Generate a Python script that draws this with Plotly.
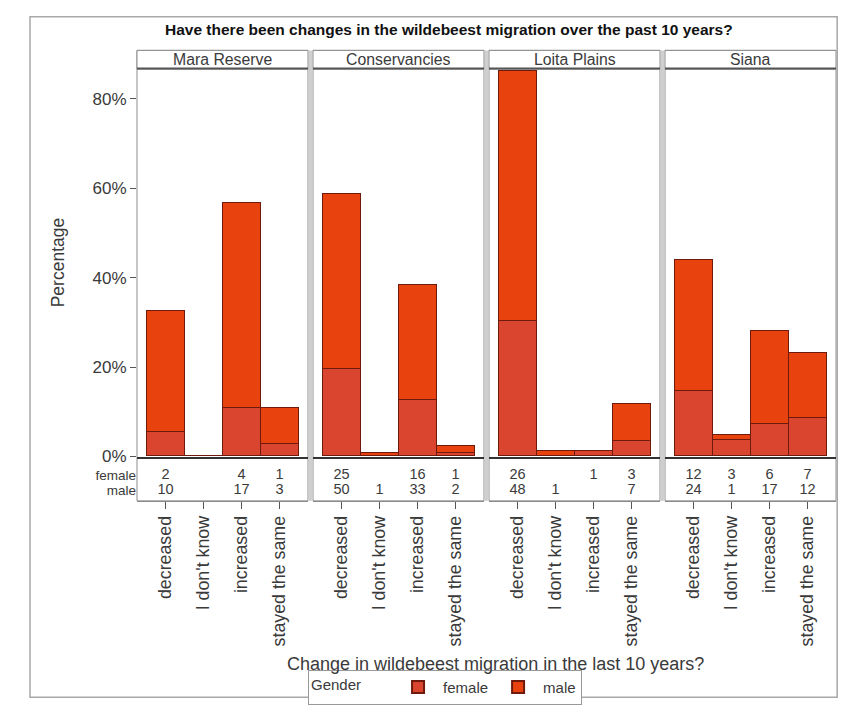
import plotly.graph_objects as go

# Figure is drawn smaller than the window so the page's body margin fits
FW, FH, OFF = 830, 700, 8

regions = ["Mara Reserve", "Conservancies", "Loita Plains", "Siana"]
categories = ["decreased", "I don't know", "increased", "stayed the same"]
female_counts = [
    [2, 0, 4, 1],
    [25, 0, 16, 1],
    [26, 0, 1, 3],
    [12, 3, 6, 7],
]
male_counts = [
    [10, 0, 17, 3],
    [50, 1, 33, 2],
    [48, 1, 0, 7],
    [24, 1, 17, 12],
]
y_tick_values = [0, 20, 40, 60, 80]
y_tick_labels = ["0%", "20%", "40%", "60%", "80%"]

female_color = "#d9452f"
male_color = "#e8420f"
edge_color = "#6e1a0c"
text_color = "#3a3a3a"
FONT = "Liberation Sans, Arial, sans-serif"


def px(x):
    return (x - OFF) / FW


def py(y):
    return 1 - (y - OFF) / FH


panel_left = [137, 313, 489, 665]
panel_w = 171
plot_top, plot_bottom, table_bottom = 70, 463, 508
strip_top = 51

fig = go.Figure()
layout = dict()
shapes = []
annotations = []

for i, region in enumerate(regions):
    n = i + 1
    nt = i + 5
    total = sum(female_counts[i]) + sum(male_counts[i])
    fpct = [c / total * 100 for c in female_counts[i]]
    mpct = [c / total * 100 for c in male_counts[i]]
    xa = "x" if n == 1 else f"x{n}"
    ya = "y" if n == 1 else f"y{n}"
    fig.add_trace(go.Bar(
        x=categories, y=fpct, name="female", legendgroup="female",
        showlegend=(i == 0), marker=dict(color=female_color, line=dict(color=edge_color, width=1.3)),
        xaxis=xa, yaxis=ya))
    fig.add_trace(go.Bar(
        x=categories, y=mpct, name="male", legendgroup="male",
        showlegend=(i == 0), marker=dict(color=male_color, line=dict(color=edge_color, width=1.3)),
        xaxis=xa, yaxis=ya))
    # table of counts
    fig.add_trace(go.Scatter(
        x=categories, y=[0.578] * 4, mode="text",
        text=[str(c) if c else "" for c in female_counts[i]],
        textfont=dict(size=14.5, color=text_color, family=FONT),
        showlegend=False, hoverinfo="skip", xaxis=f"x{nt}", yaxis=f"y{nt}"))
    fig.add_trace(go.Scatter(
        x=categories, y=[0.244] * 4, mode="text",
        text=[str(c) if c else "" for c in male_counts[i]],
        textfont=dict(size=14.5, color=text_color, family=FONT),
        showlegend=False, hoverinfo="skip", xaxis=f"x{nt}", yaxis=f"y{nt}"))

    dom = [px(panel_left[i]), px(panel_left[i] + panel_w)]
    key_x = "xaxis" if n == 1 else f"xaxis{n}"
    key_y = "yaxis" if n == 1 else f"yaxis{n}"
    layout[key_x] = dict(domain=dom, anchor=ya, type="category", categoryorder="array",
                         categoryarray=categories, range=[-0.75, 3.75],
                         showticklabels=False, ticks="", showgrid=False, zeroline=False,
                         showline=True, linecolor="#333333", linewidth=1.5, fixedrange=True)
    layout[key_y] = dict(domain=[py(plot_bottom), py(plot_top)], anchor=xa,
                         range=[0, 86.6], showgrid=False, zeroline=False,
                         showticklabels=(i == 0), tickvals=y_tick_values, ticktext=y_tick_labels,
                         ticks="outside" if i == 0 else "", ticklen=6, tickcolor="#555555",
                         tickfont=dict(size=17, color=text_color, family=FONT),
                         showline=False, fixedrange=True)
    layout[f"xaxis{nt}"] = dict(domain=dom, anchor=f"y{nt}", type="category", categoryorder="array",
                                categoryarray=categories, range=[-0.75, 3.75],
                                tickangle=-90, ticks="outside", ticklen=7, tickcolor="#555555",
                                tickfont=dict(size=17.8, color=text_color, family=FONT),
                                showgrid=False, zeroline=False, showline=True,
                                linecolor="#8c8c8c", linewidth=1, fixedrange=True)
    layout[f"yaxis{nt}"] = dict(domain=[py(table_bottom), py(plot_bottom)], anchor=f"x{nt}",
                                range=[0, 1], showgrid=False, zeroline=False,
                                showticklabels=(i == 0), tickvals=[0.578, 0.244],
                                ticktext=["female", "male"], ticks="",
                                tickfont=dict(size=13.5, color=text_color, family=FONT),
                                showline=False, fixedrange=True)

    # panel border
    shapes.append(dict(type="rect", xref="paper", yref="paper",
                       x0=px(panel_left[i]), x1=px(panel_left[i] + panel_w),
                       y0=py(table_bottom), y1=py(strip_top),
                       line=dict(color="#8c8c8c", width=1), layer="below"))
    # strip
    shapes.append(dict(type="rect", xref="paper", yref="paper",
                       x0=px(panel_left[i]), x1=px(panel_left[i] + panel_w),
                       y0=py(plot_top), y1=py(strip_top),
                       line=dict(color="#8c8c8c", width=1), fillcolor="white"))
    shapes.append(dict(type="line", xref="paper", yref="paper",
                       x0=px(panel_left[i]), x1=px(panel_left[i] + panel_w),
                       y0=py(plot_top - 0.5), y1=py(plot_top - 0.5),
                       line=dict(color="#555555", width=2)))
    annotations.append(dict(text=region, xref="paper", yref="paper",
                            x=px(panel_left[i] + panel_w / 2), y=py((strip_top + plot_top) / 2),
                            xanchor="center", yanchor="middle",
                            showarrow=False, font=dict(size=15.8, color=text_color, family=FONT)))

# light gray bands between panels and at right
for i in range(4):
    x0 = panel_left[i] + panel_w
    x1 = x0 + 5
    shapes.append(dict(type="rect", xref="paper", yref="paper",
                       x0=px(x0 + 0.5), x1=min(px(x1 - 0.5), 1.0), y0=py(table_bottom), y1=py(strip_top),
                       line=dict(width=0), fillcolor="#cfcfcf"))

# outer frame
shapes.append(dict(type="rect", xref="paper", yref="paper",
                   x0=px(30), x1=0.999, y0=0.001, y1=py(17),
                   line=dict(color="#a8a8a8", width=1.5)))

annotations.append(dict(text="<b>Have there been changes in the wildebeest migration over the past 10 years?</b>",
                        xref="paper", yref="paper", x=px(449), y=py(30), showarrow=False,
                        xanchor="center", yanchor="middle",
                        font=dict(size=15.5, color="#111111", family=FONT)))
annotations.append(dict(text="Percentage", xref="paper", yref="paper", x=px(58), y=py(266),
                        textangle=-90, showarrow=False, xanchor="center", yanchor="middle",
                        font=dict(size=17.5, color=text_color, family=FONT)))
annotations.append(dict(text="Change in wildebeest migration in the last 10 years?",
                        xref="paper", yref="paper", x=px(495), y=py(673), showarrow=False,
                        xanchor="center", yanchor="middle",
                        font=dict(size=18, color=text_color, family=FONT)))

fig.update_layout(
    width=FW, height=FH, autosize=False,
    margin=dict(l=0, r=0, t=0, b=0),
    paper_bgcolor="white", plot_bgcolor="white",
    barmode="stack", bargap=0,
    shapes=shapes, annotations=annotations,
    legend=dict(orientation="h", x=px(445), xanchor="center", y=py(697), yanchor="middle",
                title=dict(text="Gender      ", side="left",
                           font=dict(size=15, color=text_color, family=FONT)),
                font=dict(size=15, color=text_color, family=FONT),
                bordercolor="#999999", borderwidth=1, bgcolor="white",
                itemwidth=40, tracegroupgap=0, itemsizing="constant", valign="middle"),
    font=dict(family=FONT),
    **layout,
)

fig.write_html("out.html")
